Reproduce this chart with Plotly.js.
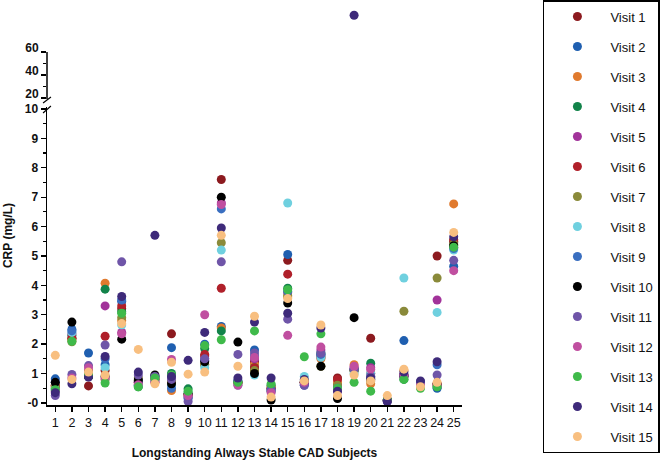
<!DOCTYPE html>
<html>
<head>
<meta charset="utf-8">
<script src="https://cdn.plot.ly/plotly-3.0.1.min.js"></script>
<style>
  html, body { margin: 0; padding: 0; background: #fff; }
  #chart { width: 667px; height: 468px; }
</style>
</head>
<body>
<div id="chart"></div>
<script>
/* CRP per subject, one series per visit */
const subjects = [1,2,3,4,5,6,7,8,9,10,11,12,13,14,15,16,17,18,19,20,21,22,23,24,25];

const visit1  = [0.55,2.2,0.58,1.1,3.2,0.7,0.8,2.35,0.3,1.6,7.6,0.7,1.4,0.5,4.85,0.7,1.6,0.85,1.1,2.2,0.1,0.9,0.6,5.0,5.55];
const visit2  = [0.82,2.5,1.7,1.3,3.45,0.6,0.85,1.88,0.2,2.0,2.6,0.75,1.8,0.45,5.05,0.65,1.65,0.6,1.15,0.85,0.08,2.12,0.7,0.5,4.65];
const visit3  = [0.6,2.15,1.1,4.07,2.8,0.65,0.7,0.42,0.25,1.3,2.55,0.65,1.3,0.4,3.6,0.7,1.5,0.7,1.3,0.65,0.1,1.1,0.6,0.6,6.77];
const visit4  = [0.5,2.3,0.9,3.87,3.1,0.55,0.9,1.0,0.48,1.85,2.45,0.7,1.2,0.6,3.9,0.75,1.7,0.55,1.1,1.35,0.08,0.8,0.55,0.55,5.45];
const visit5  = [0.45,2.35,0.95,3.3,2.4,0.7,0.75,0.85,0.2,1.5,6.8,0.65,1.5,0.45,3.75,0.7,1.8,0.5,1.2,1.2,0.1,0.95,0.6,3.5,5.3];
const visit6  = [0.6,2.2,1.05,2.27,3.3,0.75,0.8,0.7,0.3,1.65,3.9,0.7,1.2,0.5,4.38,0.65,1.55,0.8,1.15,1.0,0.1,0.9,0.6,0.65,5.5];
const visit7  = [0.55,2.08,0.9,0.8,2.9,0.85,0.85,0.75,0.3,1.3,5.45,0.7,1.1,0.55,3.65,0.7,1.25,0.6,1.1,0.75,0.08,3.12,0.55,4.25,5.4];
const visit8  = [0.45,2.4,0.9,1.2,2.65,0.6,0.75,0.6,0.35,1.2,5.2,0.6,0.95,0.4,6.8,0.9,1.55,0.45,1.0,1.0,0.1,4.25,0.6,3.08,5.2];
const visit9  = [0.7,2.45,1.0,1.5,3.5,0.75,0.9,0.5,0.15,1.45,6.6,0.75,1.6,0.45,3.8,0.6,1.65,0.5,1.15,0.9,0.08,0.9,0.7,1.3,5.25];
const visit10 = [0.7,2.75,0.9,0.9,2.17,0.78,0.95,0.65,0.3,1.4,7.0,2.07,1.0,0.1,3.4,0.7,1.25,0.15,2.9,0.8,0.1,0.95,0.6,0.65,5.35];
const visit11 = [0.25,0.97,1.27,1.97,4.8,0.95,0.9,0.8,0.05,1.5,4.8,1.65,1.7,0.4,2.85,0.6,1.7,0.45,1.15,0.9,0.05,0.95,0.65,0.95,4.85];
const visit12 = [0.4,0.85,1.2,0.85,2.35,0.62,0.7,1.48,0.25,3.0,6.75,0.6,1.55,0.35,2.3,0.7,1.9,0.4,1.25,1.15,0.08,0.95,0.6,0.6,4.5];
const visit13 = [0.45,2.1,0.95,0.68,3.05,0.55,0.85,0.95,0.4,1.95,2.15,0.7,2.45,0.65,3.85,1.57,2.35,0.5,0.7,0.4,0.1,0.8,0.5,0.55,5.3];
const visit14 = [0.35,0.65,0.88,1.58,3.62,1.05,5.7,0.9,1.45,2.4,5.95,0.85,2.75,0.85,3.05,0.8,2.55,0.4,92,0.85,0.05,1.05,0.75,1.4,5.65];
const visit15 = [1.62,0.8,1.05,0.95,2.7,1.82,0.65,1.38,0.98,1.05,5.7,1.25,2.95,0.2,3.55,0.75,2.65,0.25,0.95,0.75,0.25,1.15,0.55,0.7,5.8];

const visitNames = ['Visit 1','Visit 2','Visit 3','Visit 4','Visit 5','Visit 6','Visit 7','Visit 8',
                    'Visit 9','Visit 10','Visit 11','Visit 12','Visit 13','Visit 14','Visit 15'];
const lowerTicks = [0,1,2,3,4,5,6,7,8,9,10];
const lowerTickText = ['-0','1','2','3','4','5','6','7','8','9','10'];
const upperTicks = [20,40,60];

const visits = [visit1,visit2,visit3,visit4,visit5,visit6,visit7,visit8,
                visit9,visit10,visit11,visit12,visit13,visit14,visit15];
const COLORS = ['#8c1a1f','#1f5fb0','#e07a2e','#12834a','#a2339a','#b0202a','#8a8a3a','#6fd0df',
                '#3a6fc0','#000000','#6f55a8','#c04fa0','#3fba4a','#3e2a7a','#f8bf80'];

const BREAK = 10;   // values above this go on the upper (broken) segment
const UPPER_MIN = 19, UPPER_AXIS_TOP = 60;
const FONT = 'Liberation Sans, Arial, Helvetica, sans-serif';

/* ---------- traces: lower segment + upper segment per visit ---------- */
const traces = [];
visits.forEach(function (vals, i) {
  const grp = 'g' + i;
  traces.push({
    x: subjects,
    y: vals.map(v => v <= BREAK ? v : null),
    type: 'scatter', mode: 'markers',
    name: visitNames[i], legendgroup: grp,
    marker: { size: 9, color: COLORS[i] },
    cliponaxis: false,
    xaxis: 'x', yaxis: 'y'
  });
  if (vals.some(v => v > BREAK)) {
    traces.push({
      x: subjects,
      y: vals.map(v => v > BREAK ? v : null),
      type: 'scatter', mode: 'markers',
      name: visitNames[i], legendgroup: grp, showlegend: false,
      marker: { size: 9, color: COLORS[i] },
      cliponaxis: false,
      xaxis: 'x', yaxis: 'y2'
    });
  }
});

/* ---------- layout ---------- */
const axisCommon = {
  showgrid: false, zeroline: false,
  showline: true, linecolor: '#000', linewidth: 1.5,
  ticks: 'outside', ticklen: 5, tickwidth: 1.3, tickcolor: '#000',
  fixedrange: true
};

const layout = {
  width: 667, height: 468,
  paper_bgcolor: '#fff', plot_bgcolor: '#fff',
  margin: { l: 47, r: 205, t: 8, b: 63, autoexpand: false },
  font: { family: FONT, color: '#111', size: 12 },
  showlegend: true,
  legend: {
    x: 1.195, xanchor: 'left',
    y: 1.02, yanchor: 'top',
    bordercolor: '#000', borderwidth: 1.5, bgcolor: '#fff',
    font: { family: FONT, size: 13, color: '#111' },
    tracegroupgap: 10.1,
    itemwidth: 56,
    maxheight: 468,
    itemclick: false, itemdoubleclick: false
  },
  xaxis: Object.assign({}, axisCommon, {
    range: [0.5, 25.5],
    tickmode: 'array', tickvals: subjects,
    tickfont: { family: FONT, size: 12.5, color: '#111' },
    title: { text: '<b>Longstanding Always Stable CAD Subjects</b>',
             font: { family: FONT, size: 12, color: '#111' }, standoff: 20 },
    anchor: 'y'
  }),
  yaxis: Object.assign({}, axisCommon, {
    domain: [0, 0.7494],
    range: [-0.07, 10.05],
    tickmode: 'array', tickvals: lowerTicks, ticktext: lowerTickText,
    tickfont: { family: FONT, size: 12, color: '#111', weight: 'bold' },
    minor: { tickmode: 'array', tickvals: [0.5,1.5,2.5,3.5,4.5,5.5,6.5,7.5,8.5,9.5],
             ticks: 'outside', ticklen: 3, tickcolor: '#000', tickwidth: 1.2 },
    anchor: 'x'
  }),
  /* upper segment: range reaches above the drawn axis line so the outlier shows */
  yaxis2: Object.assign({}, axisCommon, {
    domain: [0.7703, 1],
    range: [UPPER_MIN, 98.3],
    showline: false,
    tickmode: 'array', tickvals: upperTicks,
    ticklabelshift: -4,
    tickfont: { family: FONT, size: 12, color: '#111', weight: 'bold' },
    minor: { tickmode: 'array', tickvals: [30, 50],
             ticks: 'outside', ticklen: 3, tickcolor: '#000', tickwidth: 1.2 },
    anchor: 'x'
  }),
  annotations: [
    { text: '<b>CRP (mg/L)</b>', textangle: -90,
      xref: 'paper', yref: 'paper', x: -0.094, y: 0.428,
      xanchor: 'center', yanchor: 'middle',
      showarrow: false, font: { family: FONT, size: 12, color: '#111' } }
  ],
  shapes: [
    /* upper axis line, 19 to 60 only */
    { type: 'line', xref: 'paper', yref: 'y2',
      x0: 0, x1: 0, y0: UPPER_MIN, y1: UPPER_AXIS_TOP,
      line: { color: '#000', width: 1.5 } },
    /* break marks on the y axis */
    { type: 'line', xref: 'paper', yref: 'paper',
      x0: -0.0095, y0: 0.7355, x1: 0.0095, y1: 0.7531,
      line: { color: '#000', width: 1.2 } },
    { type: 'line', xref: 'paper', yref: 'paper',
      x0: -0.0095, y0: 0.7607, x1: 0.0095, y1: 0.7758,
      line: { color: '#000', width: 1.2 } }
  ]
};

Plotly.newPlot('chart', traces, layout, { displayModeBar: false, staticPlot: true });
</script>
</body>
</html>
